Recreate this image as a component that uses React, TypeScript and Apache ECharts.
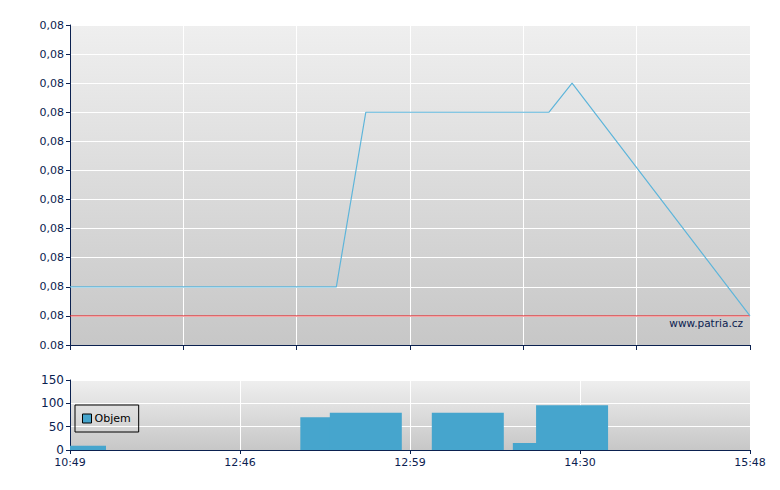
import React, { useEffect, useRef } from "react";
import * as echarts from "echarts";

// session position (0..120 scale across the trading session) of each trade
const tradePos = [0, 47, 52.2, 70.2, 84.5, 88.6, 120];
const prices = [0.0792, 0.0792, 0.0798, 0.0798, 0.0798, 0.0799, 0.0791];
const volPos = [0, 47, 52.2, 70.2, 84.5, 88.6];
const volumes = [9, 70, 80, 80, 15, 96];
const prevClose = 0.0791;
const sessionRange = [0, 120];
const timeLabels = ["10:49", "12:46", "12:59", "14:30", "15:48"];

const NAVY = "#0b2150";
const FONT = "DejaVu Sans";
const BAR_W = 72;

export default function App() {
  const ref = useRef<HTMLDivElement>(null);
  useEffect(() => {
    const chart = echarts.init(ref.current!, null, { renderer: "svg" });
    const mkBg = () =>
      new echarts.graphic.LinearGradient(0, 0, 0, 1, [
        { offset: 0, color: "#efefef" },
        { offset: 1, color: "#c7c7c7" },
      ]);
    const axisLabel = { color: NAVY, fontSize: 11, fontFamily: FONT };
    chart.setOption({
      animation: false,
      legend: {
        data: [{ name: "Objem", icon: "rect", itemStyle: { color: "#46a5cd", borderColor: "#000", borderWidth: 1 } }],
        left: 75,
        top: 405,
        orient: "vertical",
        itemWidth: 9,
        itemHeight: 9,
        itemGap: 4,
        padding: [8, 8, 8, 7],
        borderColor: "#000",
        borderWidth: 1,
        textStyle: { color: "#000", fontSize: 11, fontFamily: FONT, padding: [0, 0, 0, -2] },
      },
      graphic: [
        {
          type: "text",
          right: 37,
          top: 317,
          style: { text: "www.patria.cz", fill: NAVY, fontSize: 10.5, fontFamily: FONT },
        },
      ],
      grid: [
        { left: 70, top: 25, width: 680, height: 320, show: true, backgroundColor: mkBg(), borderWidth: 0 },
        { left: 70, top: 380, width: 680, height: 70, show: true, backgroundColor: mkBg(), borderWidth: 0 },
      ],
      xAxis: [
        {
          type: "value",
          gridIndex: 0,
          min: 0,
          max: 120,
          interval: 20,
          axisLine: { show: true, lineStyle: { color: NAVY, width: 1 } },
          axisTick: { show: true, length: 5, lineStyle: { color: NAVY } },
          axisLabel: { show: false },
          splitLine: { show: true, lineStyle: { color: "#ffffff", width: 1 } },
        },
        {
          type: "value",
          gridIndex: 1,
          min: 0,
          max: 120,
          interval: 30,
          axisLine: { show: true, lineStyle: { color: NAVY, width: 1 } },
          axisTick: { show: true, length: 4, lineStyle: { color: NAVY } },
          axisLabel: {
            ...axisLabel,
            margin: 7,
            formatter: (v: number) => timeLabels[Math.round(v / 30)] ?? "",
          },
          splitLine: { show: true, lineStyle: { color: "#ffffff", width: 1 } },
        },
      ],
      yAxis: [
        {
          type: "value",
          gridIndex: 0,
          min: 0.079,
          max: 0.0801,
          interval: 0.0001,
          axisLine: { show: true, lineStyle: { color: NAVY, width: 1 } },
          axisTick: { show: true, length: 4, lineStyle: { color: NAVY } },
          axisLabel: {
            ...axisLabel,
            margin: 6,
            formatter: (v: number) =>
              Math.abs(v - 0.079) < 1e-9 ? v.toFixed(2) : v.toFixed(2).replace(".", ","),
          },
          splitLine: { show: true, lineStyle: { color: "#ffffff", width: 1 } },
        },
        {
          type: "value",
          gridIndex: 1,
          min: 0,
          max: 150,
          interval: 50,
          axisLine: { show: true, lineStyle: { color: NAVY, width: 1 } },
          axisTick: { show: true, length: 4, lineStyle: { color: NAVY } },
          axisLabel: { ...axisLabel, margin: 6, fontSize: 12 },
          splitLine: { show: true, lineStyle: { color: "#ffffff", width: 1 } },
        },
      ],
      series: [
        {
          name: "Předchozí",
          type: "line",
          xAxisIndex: 0,
          yAxisIndex: 0,
          data: sessionRange.map((x) => [x, prevClose]),
          showSymbol: false,
          silent: true,
          lineStyle: { color: "#e3262a", width: 1 },
          z: 2,
        },
        {
          name: "Kurz",
          type: "line",
          xAxisIndex: 0,
          yAxisIndex: 0,
          data: tradePos.map((x, i) => [x, prices[i]]),
          showSymbol: false,
          lineStyle: { color: "#5eb5da", width: 1.2 },
          itemStyle: { color: "#5eb5da" },
          z: 3,
        },
        {
          name: "Objem",
          type: "custom",
          xAxisIndex: 1,
          yAxisIndex: 1,
          data: volPos.map((x, i) => [x, volumes[i]]),
          itemStyle: { color: "#46a5cd" },
          encode: { x: 0, y: 1 },
          renderItem: (params: any, api: any) => {
            const top = api.coord([api.value(0), api.value(1)]);
            const base = api.coord([api.value(0), 0]);
            const rect = echarts.graphic.clipRectByRect(
              { x: top[0] - BAR_W / 2, y: top[1], width: BAR_W, height: base[1] - top[1] },
              params.coordSys
            );
            if (!rect) return null;
            return { type: "rect", shape: rect, style: { fill: "#46a5cd" } };
          },
        },
      ],
    });
    return () => chart.dispose();
  }, []);
  return <div ref={ref} style={{ width: 780, height: 490, position: "absolute", left: 0, top: 0 }} />;
}
